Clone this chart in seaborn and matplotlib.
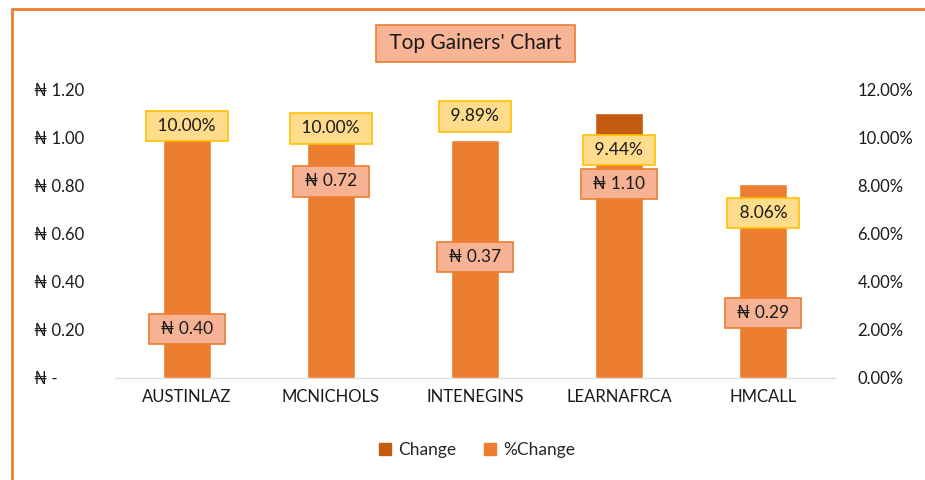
import matplotlib
matplotlib.use("Agg")
import matplotlib.pyplot as plt
import seaborn as sns
from matplotlib.patches import Patch
from matplotlib.lines import Line2D

tickers = ["AUSTINLAZ", "MCNICHOLS", "INTENEGINS", "LEARNAFRCA", "HMCALL"]
change = [0.40, 0.72, 0.37, 1.10, 0.29]
pct_change = [0.1000, 0.1000, 0.0989, 0.0944, 0.0806]

# where the data labels sit (left-axis units), as placed in the original
pct_label_y = [1.046, 1.037, 1.087, 0.946, 0.685]
chg_label_y = [0.203, 0.817, 0.502, 0.805, 0.270]

left_ticks = [0, 0.2, 0.4, 0.6, 0.8, 1.0, 1.2]
right_ticks = [0, 0.02, 0.04, 0.06, 0.08, 0.10, 0.12]

C_CHANGE = "#C55A11"
C_PCT = "#ED7D31"

sns.set_style("white")
FONT = ["Lato", "DejaVu Sans"]
plt.rcParams["font.family"] = FONT

fig = plt.figure(figsize=(9.25, 4.8), dpi=100)
ax = fig.add_axes([0.124, 0.2125, 0.779, 0.602])
ax2 = ax.twinx()

sns.barplot(x=tickers, y=change, color=C_CHANGE, saturation=1, width=0.33, ax=ax)
sns.barplot(x=tickers, y=pct_change, color=C_PCT, saturation=1, width=0.33, ax=ax2)

ax.set_ylim(0, 1.2)
ax2.set_ylim(0, 0.12)
ax.set_xlim(-0.5, 4.5)

ax.set_yticks(left_ticks)
ax.set_yticklabels(["\u20a6 -"] + [f"\u20a6 {v:.2f}" for v in left_ticks[1:]])
ax2.set_yticks(right_ticks)
ax2.set_yticklabels([f"{v * 100:.2f}%" for v in right_ticks])

for a in (ax, ax2):
    for s in a.spines.values():
        s.set_visible(False)
    a.tick_params(axis="y", length=0, labelsize=12, colors="#1a1a1a")
    a.set_xlabel("")
    a.set_ylabel("")
ax.spines["bottom"].set_visible(True)
ax.spines["bottom"].set_color("#D9D9D9")
ax.set_xticks(range(len(tickers)))
ax.set_xticklabels(tickers)
ax.tick_params(axis="x", which="major", length=0, labelsize=12, pad=8, colors="#1a1a1a")
ax.set_xticks([i - 0.5 for i in range(len(tickers) + 1)], minor=True)
ax.tick_params(axis="x", which="minor", length=5, color="#D9D9D9")
for lab in ax.get_yticklabels():
    lab.set_horizontalalignment("left")
ax.tick_params(axis="y", pad=58)
ax2.tick_params(axis="y", pad=16)

# leader line on INTENEGINS
ax.plot([2.01, 2.01], [0.37, 0.44], color="#A0A0A0", lw=1.2, zorder=5)

for i in range(len(tickers)):
    ax2.text(i, pct_label_y[i] / 10, f" {pct_change[i] * 100:.2f}% ",
             ha="center", va="center", fontsize=12.5, color="#1a1a1a", zorder=10,
             bbox=dict(boxstyle="square,pad=0.42", fc="#FFDB8C", ec="#FFC000", lw=1.2))
    ax2.text(i, chg_label_y[i] / 10, f" \u20a6 {change[i]:.2f} ",
             ha="center", va="center", fontsize=12.5, color="#1a1a1a", zorder=10,
             bbox=dict(boxstyle="square,pad=0.42", fc="#F6B293", ec="#ED7D31", lw=1.2))

# title box
fig.text(0.514, 0.91, " Top Gainers' Chart ", ha="center", va="center",
         fontsize=15, color="#1a1a1a",
         bbox=dict(boxstyle="square,pad=0.4", fc="#F8B596", ec="#ED7D31", lw=1.2))

handles = [Patch(color=C_CHANGE, label="Change"), Patch(color=C_PCT, label="%Change")]
fig.legend(handles=handles, loc="center", bbox_to_anchor=(0.516, 0.062), ncol=2,
           frameon=False, fontsize=12.5, handlelength=0.7, handleheight=0.7,
           handletextpad=0.4, columnspacing=1.6)

# outer chart border (left and top edges visible)
fig.add_artist(Line2D([0.0135, 0.0135], [0, 0.982], color="#ED7D31", lw=2, transform=fig.transFigure))
fig.add_artist(Line2D([0.0135, 1.0], [0.982, 0.982], color="#ED7D31", lw=2, transform=fig.transFigure))

fig.savefig("out.png", dpi=100)
